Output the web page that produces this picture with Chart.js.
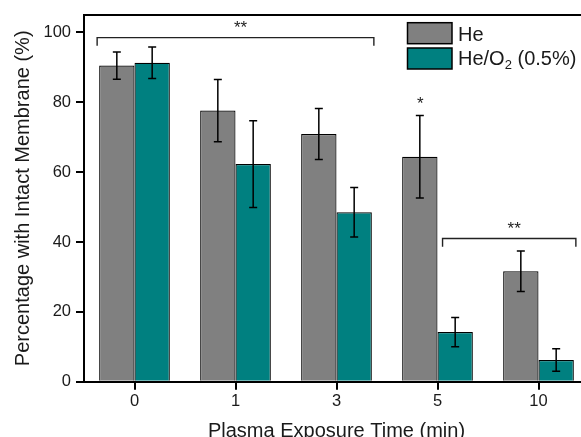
<!DOCTYPE html>
<html><head><meta charset="utf-8">
<script src="https://cdn.jsdelivr.net/npm/chart.js@4/dist/chart.umd.min.js"></script>
<style>html,body{margin:0;padding:0;overflow:hidden;background:#fff}</style>
</head><body>
<canvas id="c" width="589" height="437"></canvas>
<script>
const categories = ['0', '1', '3', '5', '10'];
const heValues = [90.5, 77.6, 70.9, 64.4, 31.6];
const heErrors = [3.9, 8.9, 7.3, 11.8, 5.8];
const heO2Values = [91.3, 62.3, 48.5, 14.2, 6.2];
const heO2Errors = [4.5, 12.4, 7.1, 4.2, 3.2];
const yTicks = [0, 20, 40, 60, 80, 100];
const seriesNames = ['He', 'He/O', '2', ' (0.5%)'];
const xTitle = 'Plasma Exposure Time (min)';
const yTitle = 'Percentage with Intact Membrane (%)';
// significance marks, in data units (category index, value)
const bracketFrom = [-0.37, 3.05];
const bracketTo = [2.37, 4.37];
const bracketLevel = [98.5, 41.0];
const bracketTip = [96.2, 38.6];
const bracketLabel = ['**', '**'];
const starX = [2.83];
const starY = [79.3];
const starLabel = ['*'];

const FONT = '"Liberation Sans", Arial, sans-serif';
const GRAY = '#808080', TEAL = '#008080';

const decor = {
  id: 'decor',
  afterDatasetsDraw(chart) {
    const ctx = chart.ctx, xs = chart.scales.x, ys = chart.scales.y, ca = chart.chartArea;
    ctx.save();
    const errs = [heErrors, heO2Errors];
    ctx.strokeStyle = '#000';
    ctx.lineWidth = 1.5;
    chart.data.datasets.forEach((ds, di) => {
      const meta = chart.getDatasetMeta(di);
      meta.data.forEach((bar, i) => {
        const v = ds.data[i], e = errs[di][i];
        const yt = ys.getPixelForValue(v + e), yb = ys.getPixelForValue(v - e);
        ctx.beginPath();
        ctx.moveTo(bar.x, yt); ctx.lineTo(bar.x, yb);
        ctx.moveTo(bar.x - 4, yt); ctx.lineTo(bar.x + 4, yt);
        ctx.moveTo(bar.x - 4, yb); ctx.lineTo(bar.x + 4, yb);
        ctx.stroke();
      });
    });
    // top frame line
    ctx.lineWidth = 2;
    ctx.beginPath();
    ctx.moveTo(ca.left, ca.top); ctx.lineTo(ca.right, ca.top);
    ctx.stroke();
    // brackets
    ctx.lineWidth = 1.4;
    ctx.strokeStyle = '#222';
    ctx.fillStyle = '#222';
    ctx.font = '17px ' + FONT;
    ctx.textAlign = 'center';
    ctx.textBaseline = 'middle';
    for (let i = 0; i < bracketFrom.length; i++) {
      const x0 = xs.getPixelForValue(bracketFrom[i]), x1 = xs.getPixelForValue(bracketTo[i]);
      const y = ys.getPixelForValue(bracketLevel[i]), yt = ys.getPixelForValue(bracketTip[i]);
      ctx.beginPath();
      ctx.moveTo(x0, yt); ctx.lineTo(x0, y); ctx.lineTo(x1, y); ctx.lineTo(x1, yt);
      ctx.stroke();
      ctx.fillText(bracketLabel[i], (x0 + x1) / 2 + 5, y - 9);
    }
    for (let i = 0; i < starX.length; i++) {
      ctx.fillText(starLabel[i], xs.getPixelForValue(starX[i]), ys.getPixelForValue(starY[i]));
    }
    // legend
    const lx = 407.5, bw = 44.5, bh = 21;
    const rows = [[22.7, GRAY], [48, TEAL]];
    ctx.lineWidth = 1.5;
    ctx.strokeStyle = '#000';
    rows.forEach(([y, c]) => {
      ctx.fillStyle = c;
      ctx.fillRect(lx, y, bw, bh);
      ctx.strokeRect(lx, y, bw, bh);
    });
    ctx.fillStyle = '#1a1a1a';
    ctx.textAlign = 'left';
    ctx.textBaseline = 'alphabetic';
    ctx.font = '20px ' + FONT;
    const tx = 458;
    ctx.fillText(seriesNames[0], tx, 40.5);
    ctx.fillText(seriesNames[1], tx, 65);
    let w = ctx.measureText(seriesNames[1]).width;
    ctx.font = '13px ' + FONT;
    ctx.fillText(seriesNames[2], tx + w, 69);
    w += ctx.measureText(seriesNames[2]).width;
    ctx.font = '20px ' + FONT;
    ctx.fillText(seriesNames[3], tx + w, 65);
    ctx.restore();
  }
};

new Chart(document.getElementById('c'), {
  type: 'bar',
  data: {
    labels: categories,
    datasets: [
      { label: 'He', data: heValues, backgroundColor: GRAY, borderColor: '#000', borderWidth: 1.2 },
      { label: 'He/O2 (0.5%)', data: heO2Values, backgroundColor: TEAL, borderColor: '#000', borderWidth: 1.2 }
    ]
  },
  options: {
    responsive: false,
    animation: false,
    events: [],
    layout: { padding: { top: 12, left: 0, right: 0, bottom: 0 } },
    datasets: { bar: { categoryPercentage: 0.7, barPercentage: 1.0 } },
    plugins: { legend: { display: false }, tooltip: { enabled: false } },
    scales: {
      x: {
        z: 1,
        offset: true,
        afterFit(s) { s.height = 55.3; },
        grid: { offset: false, drawOnChartArea: false, drawTicks: true, tickLength: 8, color: '#000', lineWidth: 2 },
        border: { display: true, color: '#000', width: 2 },
        ticks: { color: '#1a1a1a', font: { family: FONT, size: 16.5 }, padding: 2 },
        title: { display: true, text: xTitle, color: '#1a1a1a', font: { family: FONT, size: 20 }, padding: { top: 0, bottom: -6 } }
      },
      y: {
        z: 1,
        min: 0, max: 105,
        afterFit(s) { s.width = 84; },
        afterBuildTicks(s) { s.ticks = yTicks.map(v => ({ value: v })); },
        grid: { drawOnChartArea: false, drawTicks: true, tickLength: 8, color: '#000', lineWidth: 2 },
        border: { display: true, color: '#000', width: 2 },
        ticks: { color: '#1a1a1a', font: { family: FONT, size: 16.5 }, padding: 5 },
        title: { display: true, text: yTitle, color: '#1a1a1a', font: { family: FONT, size: 20 }, padding: { top: 11, bottom: 0 } }
      }
    }
  },
  plugins: [decor]
});
</script>
</body></html>
